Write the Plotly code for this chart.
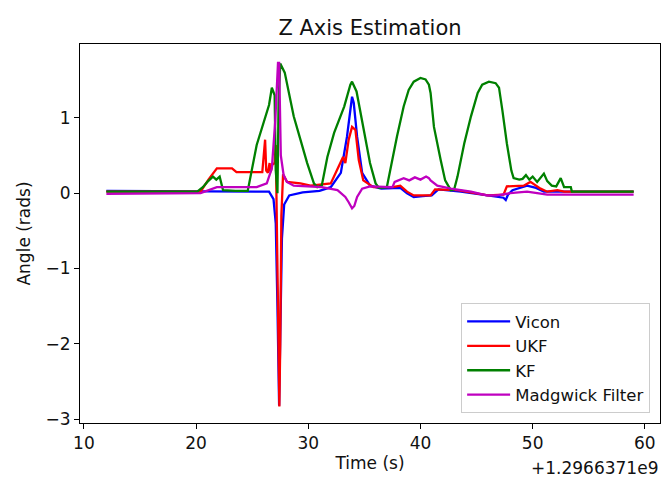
import plotly.graph_objects as go

# Timestamps are stored relative to this epoch offset (seconds)
TIME_OFFSET = 1.2966371e9

# Vicon ground truth
vicon_t = [12, 20, 24, 26.5, 26.9, 27.1, 27.25, 27.4, 27.5, 27.65, 27.85, 28.3, 29.5, 31,
           32.0, 32.9, 33.45, 33.75, 33.9, 34.05, 34.35, 34.8, 35.5, 36.5, 38.2, 38.8, 39.4,
           40.2, 41, 41.6, 43.6, 46, 47.4, 47.6, 47.8, 48.2, 49.5, 50.3, 51, 59]
vicon_z = [0.03, 0.03, 0.03, 0.02, -0.08, -0.4, -1.5, -2.82, -1.9, -0.6, -0.15, -0.03, 0.01, 0.03,
           0.08, 0.27, 0.75, 1.15, 1.28, 1.2, 0.75, 0.27, 0.1, 0.06, 0.07, 0.0, -0.05,
           -0.04, -0.03, 0.05, 0.02, -0.03, -0.06, -0.09, -0.02, 0.04, 0.1, 0.07, 0.02, 0.02]

# Unscented Kalman filter estimate
ukf_t = [12, 20.4, 21.1, 21.85, 23.2, 23.6, 25.9, 26.05, 26.15, 26.25, 26.4, 26.55, 26.65, 26.8,
         27.0, 27.1, 27.2, 27.35, 27.42, 27.5, 27.6, 27.75, 28.1, 29.3, 30.2, 32, 32.6, 33.1,
         33.3, 33.6, 33.9, 34.2, 34.5, 34.9, 35.8, 37.5, 38.2, 38.8, 39.4, 40.9, 41.3, 43.3,
         46, 47.4, 47.7, 49.2, 49.8, 50.7, 51.3, 52.2, 52.8, 59]
ukf_z = [0.02, 0.02, 0.18, 0.33, 0.33, 0.28, 0.28, 0.5, 0.71, 0.3, 0.27, 0.4, 0.28, 0.38,
         0.4, 0.64, -0.5, -2.3, -2.83, -2.0, -0.3, 0.25, 0.15, 0.13, 0.1, 0.13, 0.31, 0.48,
         0.4, 0.71, 0.88, 0.84, 0.44, 0.17, 0.08, 0.08, 0.1, 0.02, -0.03, -0.03, 0.05, 0.04,
         -0.03, -0.02, 0.09, 0.1, 0.15, 0.06, 0.02, 0.04, 0.02, 0.02]

# Linear Kalman filter estimate
kf_t = [12, 20.1, 20.6, 21.0, 21.5, 21.8, 22.1, 22.4, 23.5, 24.6, 25.4, 26.2, 26.5, 26.75,
        27.0, 27.1, 27.25, 27.35, 27.5, 27.9, 28.1, 28.7, 29.3, 29.9, 30.5, 30.8, 31.2, 31.7,
        32.3, 33.2, 33.75, 33.9, 34.3, 34.9, 35.5, 36.0, 36.3, 37.0, 37.3, 37.9, 38.5, 38.95,
        39.4, 40.0, 40.45, 40.75, 40.9, 41.2, 41.8, 42.2, 42.7, 43.0, 43.3, 43.9, 44.5, 45.1,
        45.5, 46.1, 46.7, 47.0, 47.3, 47.7, 48.1, 48.3, 48.8, 49.1, 49.4, 49.7, 50.0, 50.4,
        51.0, 51.3, 51.7, 52.1, 52.5, 52.8, 53.4, 53.5, 59]
kf_z = [0.02, 0.02, 0.08, 0.15, 0.22, 0.18, 0.22, 0.04, 0.03, 0.03, 0.64, 1.04, 1.17, 1.4,
        1.3, 0.3, 0.0, 1.2, 1.72, 1.6, 1.46, 1.02, 0.71, 0.4, 0.13, 0.08, 0.1, 0.48,
        0.8, 1.15, 1.44, 1.48, 1.35, 0.85, 0.4, 0.13, 0.07, 0.08, 0.31, 0.75, 1.15, 1.37,
        1.48, 1.53, 1.51, 1.44, 1.33, 0.88, 0.44, 0.17, 0.04, 0.05, 0.22, 0.66, 1.02, 1.33,
        1.44, 1.48, 1.46, 1.4, 1.1, 0.66, 0.3, 0.2, 0.18, 0.19, 0.24, 0.18, 0.22, 0.15,
        0.26, 0.16, 0.1, 0.09, 0.2, 0.08, 0.08, 0.02, 0.02]

# Madgwick orientation filter estimate
madg_t = [12, 20.4, 21.85, 25.4, 26.3, 26.75, 27.05, 27.3, 27.4, 27.55, 27.8, 28.1, 28.7, 31.2,
          32.6, 33.3, 33.6, 33.9, 34.1, 34.35, 34.8, 35.5, 37.5, 37.7, 38.5, 39.0, 39.5, 40.0,
          40.5, 40.75, 40.9, 41.5, 42.7, 44.5, 45.9, 46.8, 48.0, 49.5, 50.4, 51.3, 59]
madg_z = [-0.01, 0.0, 0.08, 0.08, 0.13, 0.33, 0.95, 1.73, 1.73, 0.5, 0.24, 0.15, 0.1, 0.08,
          0.04, -0.05, -0.12, -0.2, -0.17, -0.05, 0.06, 0.09, 0.08, 0.15, 0.2, 0.17, 0.21, 0.18,
          0.22, 0.2, 0.17, 0.1, 0.06, 0.02, -0.03, -0.03, 0.0, 0.02, 0.0, -0.02, -0.02]

series = [
    ("Vicon", vicon_t, vicon_z, "#0000ff"),
    ("UKF", ukf_t, ukf_z, "#ff0000"),
    ("KF", kf_t, kf_z, "#008000"),
    ("Madgwick Filter", madg_t, madg_z, "#bf00bf"),
]

FONT = "DejaVu Sans, Verdana, sans-serif"
TXT = "#111111"
FS = 17

fig = go.Figure()
for name, t, z, color in series:
    fig.add_trace(go.Scatter(
        x=t, y=z, mode="lines", name=name,
        line=dict(color=color, width=2.3),
    ))

axis_common = dict(
    showline=True, mirror=True, linecolor="black", linewidth=1,
    ticks="outside", ticklen=5, tickwidth=1, tickcolor="black",
    showgrid=False, zeroline=False, automargin=False,
    tickfont=dict(family=FONT, size=FS, color=TXT),
)

fig.update_layout(
    width=670, height=477,
    margin=dict(l=80, r=10, t=44, b=54),
    paper_bgcolor="white", plot_bgcolor="white",
    font=dict(family=FONT, size=FS, color=TXT),
    title=dict(text="Z Axis Estimation", x=0.5, xref="paper", xanchor="center",
               y=1 - 28 / 477, yanchor="middle",
               font=dict(family=FONT, size=21, color=TXT)),
    xaxis=dict(range=[9.65, 61.35], tickvals=[10, 20, 30, 40, 50, 60],
               title=dict(text="Time (s)", standoff=4,
                          font=dict(family=FONT, size=FS, color=TXT)),
               **axis_common),
    yaxis=dict(range=[-3.05, 1.98], tickvals=[-3, -2, -1, 0, 1],
               title=dict(text="Angle (rads)", standoff=10,
                          font=dict(family=FONT, size=FS, color=TXT)),
               **axis_common),
    legend=dict(x=0.983, y=0.026, xanchor="right", yanchor="bottom",
                bgcolor="rgba(255,255,255,0.8)", bordercolor="#cccccc", borderwidth=1,
                font=dict(family=FONT, size=16.5, color=TXT), itemwidth=43),
    showlegend=True,
)

# Epoch offset shown beneath the right end of the time axis
fig.add_annotation(text="+1.2966371e9", xref="paper", yref="paper",
                   x=1.0, y=0, xanchor="right", yanchor="top", yshift=-33,
                   showarrow=False, font=dict(family=FONT, size=FS, color=TXT))

fig.write_html("out.html")
